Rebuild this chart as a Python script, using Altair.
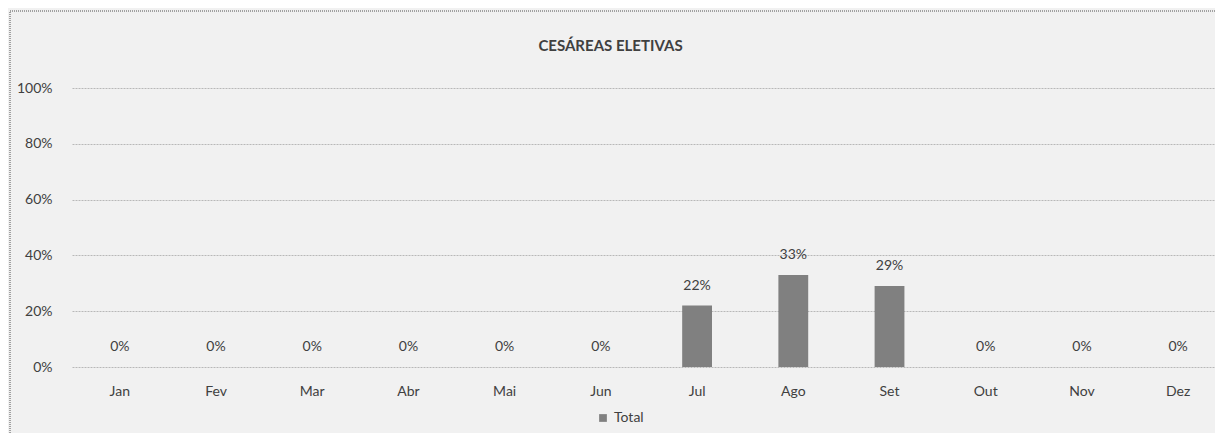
import altair as alt
import pandas as pd

months = ["Jan", "Fev", "Mar", "Abr", "Mai", "Jun", "Jul", "Ago", "Set", "Out", "Nov", "Dez"]
values = [0, 0, 0, 0, 0, 0, 0.22, 0.33, 0.29, 0, 0, 0]
series = ["Total"] * 12

df = pd.DataFrame({"Mês": months, "Valor": values, "Série": series})

FONT = "Lato"
TXT = "#404040"
FS = 14

x = alt.X("Mês:N", sort=months, title=None,
          scale=alt.Scale(paddingInner=0.69, paddingOuter=0.285, align=0.6),
          axis=alt.Axis(labelAngle=0, labelPadding=17, ticks=False, domain=False,
                        labelFontSize=FS, labelColor=TXT, labelFont=FONT))
y = alt.Y("Valor:Q", title=None,
          scale=alt.Scale(domain=[0, 1]),
          axis=alt.Axis(format=".0%", values=[0, 0.2, 0.4, 0.6, 0.8, 1.0], ticks=False,
                        domain=False, labelPadding=20, labelFontSize=FS, labelColor=TXT,
                        labelFont=FONT, gridColor="#b8b8b8", gridDash=[2, 1], gridWidth=1))

bars = alt.Chart(df).mark_bar(color="#808080").encode(
    x=x, y=y,
    color=alt.Color("Série:N", scale=alt.Scale(range=["#808080"]),
                    legend=alt.Legend(title=None, orient="none", legendX=524, legendY=323,
                                      symbolType="square", symbolSize=60, labelFontSize=FS,
                                      labelColor=TXT, labelFont=FONT))
)

labels = alt.Chart(df).mark_text(baseline="bottom", dy=-13, fontSize=FS, color=TXT, font=FONT).encode(
    x=alt.X("Mês:N", sort=months),
    y="Valor:Q",
    text=alt.Text("Valor:Q", format=".0%")
)

border = alt.Chart(df).mark_rect(fill=None, stroke="#a0a0a0", strokeDash=[1, 1], strokeWidth=1).encode(
    x=alt.value(-62), x2=alt.value(1170), y=alt.value(-77), y2=alt.value(380)
)

chart = alt.layer(bars, labels, border).properties(
    width=1143, height=279,
    autosize=alt.AutoSizeParams(type="none"),
    padding={"left": 64, "top": 80, "right": 0, "bottom": 66},
    background="#f1f1f1",
    title=alt.Title("CESÁREAS ELETIVAS", fontSize=15, font=FONT, fontWeight="bold",
                    color=TXT, anchor="middle", offset=-43, dx=-33)
).configure_view(stroke=None)

chart.save("out.html", embed_options={"renderer": "svg", "actions": False})
